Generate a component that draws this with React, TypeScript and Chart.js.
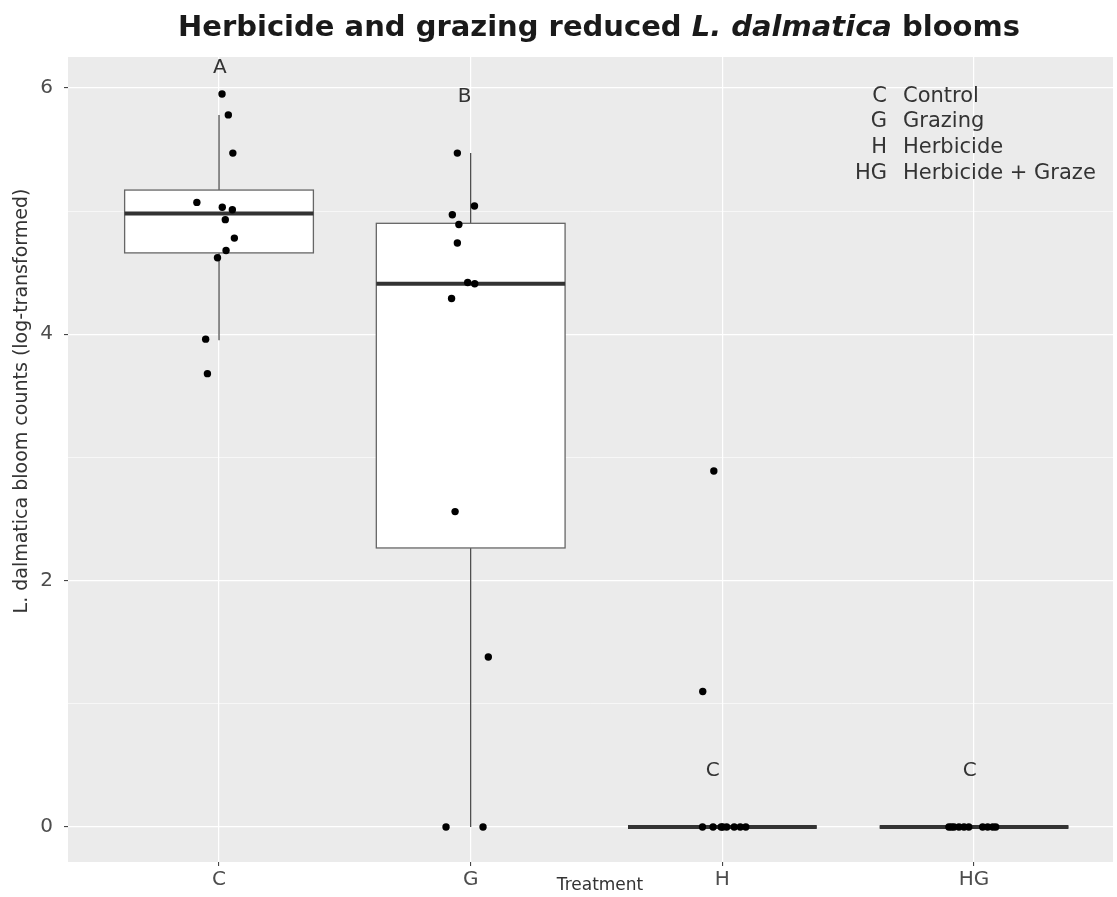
import React, { useEffect, useRef } from 'react';
import { Chart, registerables } from 'chart.js';

Chart.register(...registerables);

// ---- data ----
const categories = ['C', 'G', 'H', 'HG'];
const boxQ1 = [4.66, 2.265, 0, 0];
const boxMedian = [4.98, 4.41, 0, 0];
const boxQ3 = [5.17, 4.9, 0, 0];
const whiskerLow = [3.95, 0, 0, 0];
const whiskerHigh = [5.78, 5.47, 0, 0];

const pointsCY = [5.95, 5.78, 5.47, 5.07, 5.03, 5.01, 4.93, 4.78, 4.68, 4.62, 3.96, 3.68];
const pointsCJitter = [0.012, 0.037, 0.055, -0.088, 0.013, 0.053, 0.025, 0.061, 0.028, -0.006, -0.053, -0.046];
const pointsGY = [5.47, 5.04, 4.97, 4.89, 4.74, 4.42, 4.41, 4.29, 2.56, 1.38, 0, 0];
const pointsGJitter = [-0.053, 0.015, -0.073, -0.047, -0.053, -0.012, 0.016, -0.076, -0.062, 0.07, -0.098, 0.049];
const pointsHY = [2.89, 1.1, 0, 0, 0, 0, 0, 0, 0, 0];
const pointsHJitter = [-0.034, -0.078, -0.079, -0.037, 0.001, 0.017, 0.047, 0.071, 0.093, -0.005];
const pointsHGY = [0, 0, 0, 0, 0, 0, 0, 0, 0, 0];
const pointsHGJitter = [-0.1, -0.08, -0.06, -0.04, -0.021, 0.034, 0.054, 0.074, 0.086, -0.09];

const letterLabels = ['A', 'B', 'C', 'C'];
const letterY = [6.16, 5.93, 0.46, 0.46];
const letterOffset = [0.003, -0.024, -0.038, -0.017];

const legendCodes = ['C', 'G', 'H', 'HG'];
const legendNames = ['Control', 'Grazing', 'Herbicide', 'Herbicide + Graze'];

const yTicks = [0, 1, 2, 3, 4, 5, 6];

const W = 1117;
const H = 897;
const FONT = '"DejaVu Sans", Verdana, sans-serif';

const allY = [pointsCY, pointsGY, pointsHY, pointsHGY];
const allJ = [pointsCJitter, pointsGJitter, pointsHJitter, pointsHGJitter];
const scatterData: { x: number; y: number }[] = [];
allY.forEach((ys, i) => ys.forEach((v, k) => scatterData.push({ x: i + allJ[i][k], y: v })));

const bgPlugin = {
  id: 'panelBg',
  beforeDraw(chart: any) {
    const { ctx, chartArea } = chart;
    ctx.save();
    ctx.fillStyle = '#EBEBEB';
    ctx.fillRect(chartArea.left, chartArea.top, chartArea.right - chartArea.left, chartArea.bottom - chartArea.top);
    ctx.restore();
  },
};

const boxPlugin = {
  id: 'boxes',
  beforeDatasetsDraw(chart: any) {
    const { ctx } = chart;
    const x = chart.scales.x;
    const y = chart.scales.y;
    const half = 0.375;
    ctx.save();
    categories.forEach((_, i) => {
      const cx = x.getPixelForValue(i);
      const l = x.getPixelForValue(i - half);
      const r = x.getPixelForValue(i + half);
      const q1 = y.getPixelForValue(boxQ1[i]);
      const q3 = y.getPixelForValue(boxQ3[i]);
      const md = y.getPixelForValue(boxMedian[i]);
      ctx.strokeStyle = '#333333';
      ctx.lineWidth = 1.1;
      ctx.beginPath();
      ctx.moveTo(cx, q3);
      ctx.lineTo(cx, y.getPixelForValue(whiskerHigh[i]));
      ctx.moveTo(cx, q1);
      ctx.lineTo(cx, y.getPixelForValue(whiskerLow[i]));
      ctx.stroke();
      ctx.fillStyle = '#FFFFFF';
      ctx.fillRect(l, q3, r - l, q1 - q3);
      ctx.strokeStyle = '#666666';
      ctx.lineWidth = 1.3;
      ctx.strokeRect(l, q3, r - l, q1 - q3);
      ctx.strokeStyle = '#333333';
      ctx.lineWidth = 4;
      ctx.beginPath();
      ctx.moveTo(l, md);
      ctx.lineTo(r, md);
      ctx.stroke();
    });
    ctx.restore();
  },
  afterDatasetsDraw(chart: any) {
    const { ctx } = chart;
    const x = chart.scales.x;
    const y = chart.scales.y;
    ctx.save();
    ctx.fillStyle = '#333333';
    ctx.font = `20px ${FONT}`;
    ctx.textAlign = 'center';
    ctx.textBaseline = 'middle';
    letterLabels.forEach((t, i) => {
      ctx.fillText(t, x.getPixelForValue(i + letterOffset[i]), y.getPixelForValue(letterY[i]));
    });
    ctx.restore();
  },
};

const textPlugin = {
  id: 'texts',
  afterDraw(chart: any) {
    const { ctx } = chart;
    ctx.save();
    const parts = [
      { t: 'Herbicide and grazing reduced ', f: `bold 29px ${FONT}` },
      { t: 'L. dalmatica', f: `italic bold 29px ${FONT}` },
      { t: ' blooms', f: `bold 29px ${FONT}` },
    ];
    let total = 0;
    parts.forEach((p) => {
      ctx.font = p.f;
      total += ctx.measureText(p.t).width;
    });
    let px = 599 - total / 2;
    ctx.fillStyle = '#1A1A1A';
    ctx.textBaseline = 'middle';
    ctx.textAlign = 'left';
    parts.forEach((p) => {
      ctx.font = p.f;
      ctx.fillText(p.t, px, 28);
      px += ctx.measureText(p.t).width;
    });

    ctx.fillStyle = '#333333';
    ctx.font = `17px ${FONT}`;
    ctx.textAlign = 'center';
    ctx.fillText('Treatment', 600, 886);

    ctx.save();
    ctx.translate(22, 401);
    ctx.rotate(-Math.PI / 2);
    ctx.font = `19px ${FONT}`;
    ctx.fillText('L. dalmatica bloom counts (log-transformed)', 0, 0);
    ctx.restore();

    ctx.font = `21px ${FONT}`;
    const rows = [97, 122, 148, 174];
    legendCodes.forEach((c, i) => {
      ctx.textAlign = 'right';
      ctx.fillText(c, 887, rows[i]);
      ctx.textAlign = 'left';
      ctx.fillText(legendNames[i], 903, rows[i]);
    });
    ctx.restore();
  },
};

export default function App() {
  const ref = useRef<HTMLCanvasElement | null>(null);
  useEffect(() => {
    if (!ref.current) return;
    const chart = new Chart(ref.current, {
      type: 'scatter',
      data: {
        datasets: [
          {
            data: scatterData,
            backgroundColor: '#000000',
            borderWidth: 0,
            pointRadius: 3.7,
          },
        ],
      },
      options: {
        animation: false,
        responsive: false,
        devicePixelRatio: 1,
        layout: { padding: { top: 57, right: 0, bottom: 0, left: 0 } },
        plugins: { legend: { display: false }, title: { display: false }, tooltip: { enabled: false } },
        scales: {
          x: {
            type: 'linear',
            min: -0.6,
            max: 3.552,
            afterBuildTicks: (s: any) => {
              s.ticks = categories.map((_, i) => ({ value: i }));
            },
            afterFit: (s: any) => {
              s.height = 35;
            },
            border: { display: false },
            grid: { color: '#FFFFFF', lineWidth: 1.2, tickLength: 4, tickColor: '#333333', tickWidth: 1 },
            ticks: {
              autoSkip: false,
              maxRotation: 0,
              padding: 2,
              color: '#4D4D4D',
              font: { family: FONT, size: 20 },
              callback: (v: any) => categories[Math.round(Number(v))] ?? '',
            },
          },
          y: {
            type: 'linear',
            min: -0.284,
            max: 6.25,
            afterBuildTicks: (s: any) => {
              s.ticks = yTicks.map((v) => ({ value: v }));
            },
            afterFit: (s: any) => {
              s.width = 68;
            },
            border: { display: false },
            grid: {
              color: '#FFFFFF',
              lineWidth: (c: any) => (c.tick && c.tick.value % 2 === 0 ? 1.2 : 0.6),
              tickLength: 4,
              tickColor: (c: any) => (c.tick && c.tick.value % 2 === 0 ? '#333333' : 'rgba(0,0,0,0)'),
              tickWidth: 1,
            },
            ticks: {
              padding: 11,
              color: '#4D4D4D',
              font: { family: FONT, size: 20 },
              callback: (v: any) => (Number(v) % 2 === 0 ? String(v) : ''),
            },
          },
        },
      },
      plugins: [bgPlugin, boxPlugin, textPlugin],
    });
    return () => chart.destroy();
  }, []);
  return (
    <div style={{ position: 'absolute', left: 0, top: 0, width: W, height: H, background: '#FFFFFF' }}>
      <canvas ref={ref} width={W} height={H} style={{ width: W, height: H, display: 'block' }} />
    </div>
  );
}
